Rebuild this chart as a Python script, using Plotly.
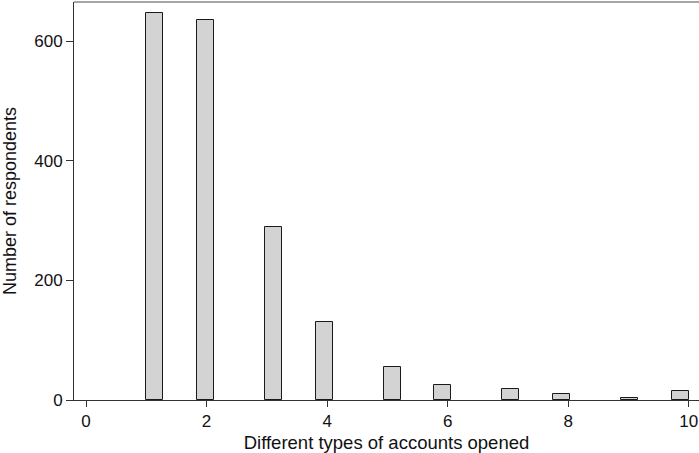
import plotly.graph_objects as go
import math

# Data
account_types = [1, 2, 3, 4, 5, 6, 7, 8, 9, 10]
respondents = [647, 636, 289, 131, 55, 25, 18, 10, 3, 15]
x_ticks = [0, 2, 4, 6, 8, 10]
y_ticks = [0, 200, 400, 600]

# Histogram binning (32 bins over 1..10)
n_bins = 32
x_min, x_max = 1, 10
bin_w = (x_max - x_min) / n_bins
centers = []
for v in account_types:
    idx = min(int(math.floor((v - x_min) / bin_w)), n_bins - 1)
    centers.append(x_min + (idx + 0.5) * bin_w)

fig = go.Figure()
fig.add_trace(go.Bar(
    x=centers, y=respondents, width=bin_w,
    marker=dict(color="#d3d3d3", line=dict(color="#1a1a1a", width=1)),
))

font = "Liberation Sans, Arial, Helvetica, sans-serif"
fig.update_layout(
    width=699, height=453,
    margin=dict(l=74, r=0, t=2, b=53, autoexpand=False),
    paper_bgcolor="white", plot_bgcolor="white",
    showlegend=False,
    font=dict(family=font, size=17, color="#111111"),
    bargap=0,
)
fig.update_xaxes(
    range=[-0.2, 10.17], tickvals=x_ticks, ticks="outside", ticklen=6,
    tickcolor="#333333", showline=True, linecolor="#333333", linewidth=1,
    showgrid=False, zeroline=False, automargin=False,
    title=dict(text="Different types of accounts opened", font=dict(size=18.5), standoff=6),
    tickfont=dict(size=17),
)
fig.update_yaxes(
    range=[0, 666], tickvals=y_ticks, ticks="outside", ticklen=7,
    tickcolor="#333333", showline=True, linecolor="#333333", linewidth=1,
    showgrid=False, zeroline=False, automargin=False,
    title=dict(text="Number of respondents", font=dict(size=18), standoff=12),
    tickfont=dict(size=17),
)
fig.add_shape(type="line", xref="paper", yref="paper", x0=0, x1=1, y0=1, y1=1,
              line=dict(color="#888888", width=1.5))

fig.write_html("out.html", config={"displayModeBar": False},
               post_script="document.body.style.margin='0';document.body.style.overflow='hidden';")
